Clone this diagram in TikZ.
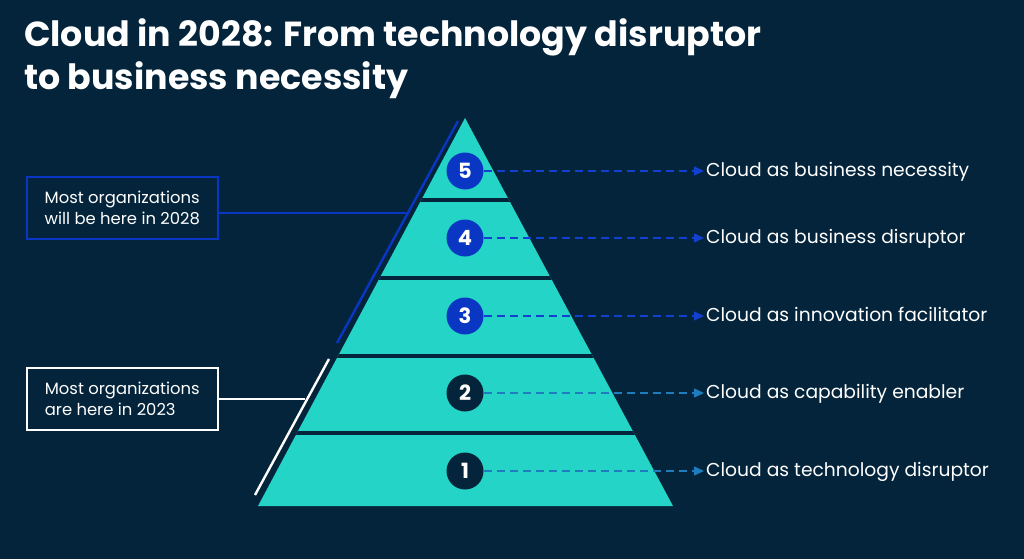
\documentclass[tikz,border=0pt]{standalone}
\usepackage{fontspec}
\setmainfont{Poppins}
\usetikzlibrary{arrows.meta,positioning}
\definecolor{bgnavy}{HTML}{03243A}
\definecolor{teal}{HTML}{24D4C6}
\definecolor{numblue}{HTML}{0A36C4}
\definecolor{dashblue}{HTML}{1240D0}
\definecolor{dashsteel}{HTML}{1E7DBE}
\tikzset{
  num/.style={circle, minimum size=37pt, inner sep=0pt, text=white,
    font=\fontsize{21}{21}\selectfont\bfseries},
  lab/.style={anchor=west, text=white, inner sep=2pt, text height=13pt, text depth=3pt,
    font=\fontsize{18.7}{22}\selectfont},
  note/.style={anchor=north west, line width=1.6pt, text=white, align=left, inner sep=0pt,
    minimum width=191pt, minimum height=62pt,
    font=\fontsize{16.4}{21}\selectfont},
  dasharrow/.style={dashed, dash pattern=on 8pt off 5pt, line width=1.4pt,
    -{Triangle[length=10pt,width=9pt]}},
}
\begin{document}
\begin{tikzpicture}[x=1pt, y=-1pt]
  \fill[bgnavy] (0,0) rectangle (1024,559);
  \useasboundingbox (0,0) rectangle (1024,559);

  % Title
  \node[anchor=base west, inner sep=0pt, text=white, font=\fontsize{34.8}{40}\selectfont\bfseries]
    (title1) at (24,47) {Cloud in 2028: From technology disruptor};
  \node[anchor=base west, inner sep=0pt, text=white, font=\fontsize{34.8}{40}\selectfont\bfseries]
    (title2) at (24,90) {to business necessity};

  % Pyramid, cut into five bands
  \begin{scope}
    \clip (465,118) -- (673,506) -- (258,506) -- cycle;
    \fill[teal] (250,110) rectangle (680,510);
    \foreach \yy in {200,278,356,433}
      \draw[bgnavy, line width=3.2pt] (250,\yy) -- (680,\yy);
  \end{scope}

  % Levels
  \node[num, fill=numblue] (c5) at (465,171) {5};
  \node[num, fill=numblue] (c4) at (465,238) {4};
  \node[num, fill=numblue] (c3) at (465,316) {3};
  \node[num, fill=bgnavy] (c2) at (465,393) {2};
  \node[num, fill=bgnavy] (c1) at (465,471) {1};

  \node[lab] (l5) at (704,171) {Cloud as business necessity};
  \node[lab] (l4) at (704,238) {Cloud as business disruptor};
  \node[lab] (l3) at (704,316) {Cloud as innovation facilitator};
  \node[lab] (l2) at (704,393) {Cloud as capability enabler};
  \node[lab] (l1) at (704,471) {Cloud as technology disruptor};

  \foreach \i in {5,4,3}
    \draw[dasharrow, dashblue] (c\i) -- (l\i);
  \foreach \i in {2,1}
    \draw[dasharrow, dashsteel] (c\i) -- (l\i);

  % Where organizations are
  \node[note, draw=numblue] (b28) at (26,176) {Most organizations\\will be here in 2028};
  \node[note, draw=white] (b23) at (26,367) {Most organizations\\are here in 2023};

  \coordinate (t28) at (458,121);
  \coordinate (u28) at (337,343);
  \coordinate (k28) at (407,213);
  \coordinate (t23) at (329,359);
  \coordinate (u23) at (255,495);
  \coordinate (k23) at (305,399);
  \draw[numblue, line width=2.4pt] (t28) -- (u28);
  \draw[numblue, line width=1.6pt] (b28.east |- k28) -- (k28);
  \draw[white, line width=2.4pt] (t23) -- (u23);
  \draw[white, line width=1.6pt] (b23.east |- k23) -- (k23);
\end{tikzpicture}
\end{document}
